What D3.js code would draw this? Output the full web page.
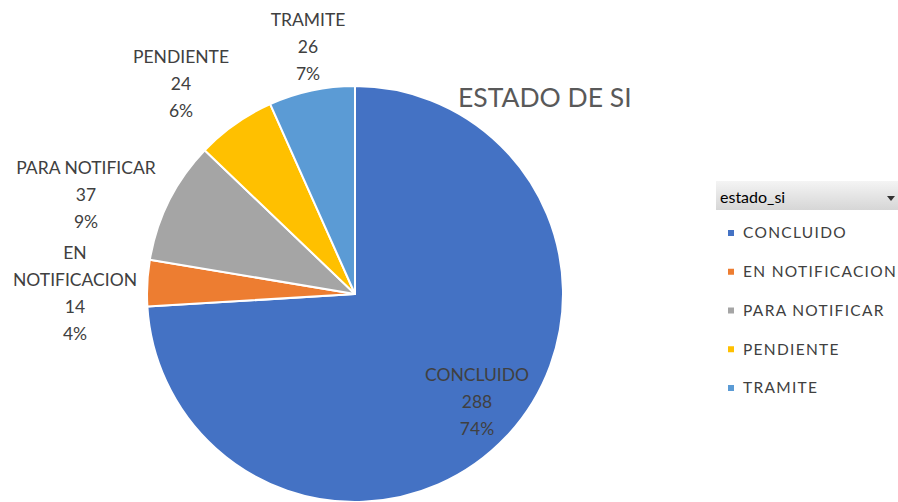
<!DOCTYPE html>
<html><head><meta charset="utf-8">
<script src="https://cdn.jsdelivr.net/npm/d3@7"></script>
<style>body{margin:0;background:#fff}svg{display:block}text{font-family:Lato,"Open Sans",sans-serif}</style>
</head><body>
<svg id="c" width="898" height="502"></svg>
<script>
const categories = ["CONCLUIDO","EN NOTIFICACION","PARA NOTIFICAR","PENDIENTE","TRAMITE"];
const values = [288,14,37,24,26];
const percents = ["74%","4%","9%","6%","7%"];
const colors = ["#4472C4","#ED7D31","#A5A5A5","#FFC000","#5B9BD5"];
const labelLines = [["CONCLUIDO"],["EN","NOTIFICACION"],["PARA NOTIFICAR"],["PENDIENTE"],["TRAMITE"]];
const labelPos = [[477,375],[75,253],[86,168],[181,57],[308,20]];
const title = "ESTADO DE SI";
const legendTitle = "estado_si";

const svg = d3.select("#c");
const cx = 355, cy = 294, r = 208;
const data = categories.map((c,i)=>({c, v:values[i], p:percents[i], col:colors[i], lines:labelLines[i], pos:labelPos[i]}));
const pie = d3.pie().value(d=>d.v).sort(null);
const arc = d3.arc().innerRadius(0).outerRadius(r);
const g = svg.append("g").attr("transform",`translate(${cx},${cy})`);
g.selectAll("path").data(pie(data)).join("path")
  .attr("d",arc).attr("fill",d=>d.data.col).attr("stroke","#fff").attr("stroke-width",2).attr("stroke-linejoin","round");

// labels
data.forEach(d=>{
  const lines = d.lines.concat([String(d.v), d.p]);
  const t = svg.append("text").attr("text-anchor","middle").attr("fill","#404040").style("font-size","17.5px");
  lines.forEach((l,j)=>{
    t.append("tspan").attr("x",d.pos[0]).attr("y",d.pos[1]+j*27).attr("dy","0.35em").text(l);
  });
});

svg.append("text").attr("x",458).attr("y",98).attr("dy","0.35em").attr("fill","#595959").style("font-size","26.5px").text(title);

// legend
const defs = svg.append("defs");
const grad = defs.append("linearGradient").attr("id","lg").attr("x1",0).attr("y1",0).attr("x2",0).attr("y2",1);
grad.append("stop").attr("offset","0%").attr("stop-color","#f4f4f4");
grad.append("stop").attr("offset","100%").attr("stop-color","#d6d6d6");
svg.append("rect").attr("x",716).attr("y",181).attr("width",190).attr("height",29).attr("fill","url(#lg)");
svg.append("text").attr("x",720).attr("y",197).attr("dy","0.35em").attr("fill","#000").style("font-size","16px").text(legendTitle);
svg.append("path").attr("d","M887,196 L895,196 L891,201 Z").attr("fill","#333");
const ly = d3.scalePoint().domain(categories).range([233,388]);
const lg = svg.append("g");
data.forEach(d=>{
  lg.append("rect").attr("x",728).attr("y",ly(d.c)-3).attr("width",6).attr("height",6).attr("fill",d.col);
  lg.append("text").attr("x",743).attr("y",ly(d.c)).attr("dy","0.35em").attr("fill","#404040").style("font-size","15.5px").style("letter-spacing","1.3px").text(d.c);
});
</script>
</body></html>
